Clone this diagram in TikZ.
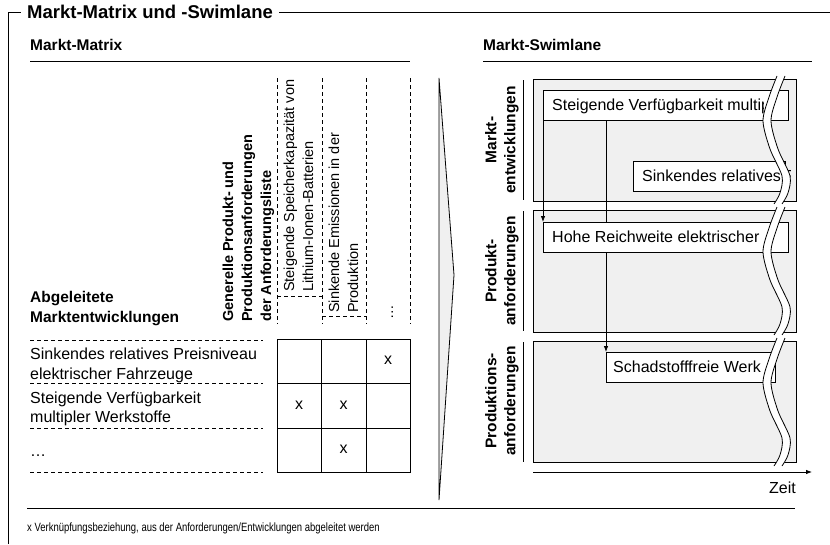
\documentclass[tikz,border=0pt]{standalone}
\usepackage{fontspec}
\setmainfont{Liberation Sans}
\usetikzlibrary{arrows.meta}
\definecolor{lanefill}{HTML}{F0F0F0}

\tikzset{
  every node/.style={inner sep=0pt},
  body/.style={font=\fontsize{16}{19}\selectfont},
  coltext/.style={font=\fontsize{14.5}{18}\selectfont},
  headb/.style={font=\bfseries\fontsize{15.5}{19}\selectfont},
  colhead/.style={font=\bfseries\fontsize{14.5}{18}\selectfont},
  rule/.style={line width=0.9pt},
  dashrule/.style={line width=0.7pt, dash pattern=on 4pt off 3pt},
  gridline/.style={line width=0.8pt},
  lanebox/.style={draw, fill=lanefill, line width=0.8pt, anchor=north west},
  evtbox/.style={draw, fill=white, line width=0.8pt, anchor=north west, minimum height=30pt},
  flow/.style={-{Latex[length=6pt,width=4.5pt]}, line width=0.8pt},
  lanelabel/.style={font=\bfseries\fontsize{15.5}{19}\selectfont, align=center, rotate=90},
  xcell/.style={font=\fontsize{16}{19}\selectfont},
  vtext/.style={coltext, rotate=90, anchor=base west},
  vhead/.style={colhead, rotate=90, anchor=base west},
}

\begin{document}
\begin{tikzpicture}[x=1pt, y=-1pt]
\useasboundingbox (0,0) rectangle (830,544);

% ---------- outer frame with title ----------
\node[font=\bfseries\fontsize{18.5}{20}\selectfont, anchor=west, inner xsep=6pt] (title) at (21,12) {Markt-Matrix und -Swimlane};
\draw[rule] (8,544) -- (8,12) -- (title.west);
\draw[rule] (title.east) -- (830,12);

% ---------- section headings ----------
\node[headb, anchor=base west] (mmhead) at (30,50) {Markt-Matrix};
\draw[rule] (30,61) -- (410,61);
\node[headb, anchor=base west] (mshead) at (483,50) {Markt-Swimlane};
\draw[rule] (483,61) -- (812,61);

% ---------- matrix: column headers ----------
\foreach \x in {277,322,366,410} \draw[dashrule] (\x,78) -- (\x,324);
\draw[dashrule] (277,296) -- (322,296);
\draw[dashrule] (322,316) -- (366,316);

\node[vhead] (gh1) at (233,322) {Generelle Produkt- und};
\node[vhead] (gh2) at (252,322) {Produktionsanforderungen};
\node[vhead] (gh3) at (271,322) {der Anforderungsliste};

\node[vtext] (c1a) at (294,292) {Steigende Speicherkapazität von};
\node[vtext] (c1b) at (313,292) {Lithium-Ionen-Batterien};
\node[vtext] (c2a) at (339,313) {Sinkende Emissionen in der};
\node[vtext] (c2b) at (358,313) {Produktion};
\node[vtext] (c3) at (393,320) {\dots};

% ---------- matrix: row headers ----------
\node[headb, anchor=base west] (rh1) at (30,302) {Abgeleitete};
\node[headb, anchor=base west] (rh2) at (30,322) {Marktentwicklungen};

\foreach \y in {340,383,428,472} \draw[dashrule] (30,\y) -- (263,\y);

\node[body, anchor=base west] (r1a) at (30,359) {Sinkendes relatives Preisniveau};
\node[body, anchor=base west] (r1b) at (30,379) {elektrischer Fahrzeuge};
\node[body, anchor=base west] (r2a) at (30,403) {Steigende Verfügbarkeit};
\node[body, anchor=base west] (r2b) at (30,422) {multipler Werkstoffe};
\node[body, anchor=base west] (r3) at (30,456) {\dots};

% ---------- matrix: grid with links ----------
\draw[gridline] (277,339) rectangle (410,472);
\draw[gridline] (321,339) -- (321,472);
\draw[gridline] (366,339) -- (366,472);
\draw[gridline] (277,383) -- (410,383);
\draw[gridline] (277,428) -- (410,428);

\node[xcell] (x13) at (388,360) {x};
\node[xcell] (x21) at (299,405) {x};
\node[xcell] (x22) at (343.5,405) {x};
\node[xcell] (x32) at (343.5,449) {x};

% ---------- transition chevron ----------
\draw[line width=0.8pt, fill=lanefill, line join=miter] (439,78) -- (454,275) -- (439,500) -- cycle;

% ---------- swimlanes ----------
\node[lanebox, minimum width=263pt, minimum height=122pt] (lane1) at (533,79) {};
\node[lanebox, minimum width=263pt, minimum height=122pt] (lane2) at (533,210) {};
\node[lanebox, minimum width=263pt, minimum height=121pt] (lane3) at (533,341) {};

\node[lanelabel] (lab1) at (502,140) {Markt-\\entwicklungen};
\node[lanelabel] (lab2) at (502,271) {Produkt-\\anforderungen};
\node[lanelabel] (lab3) at (502,401) {Produktions-\\anforderungen};
\draw[line width=0.8pt] (523,80) -- (523,200);
\draw[line width=0.8pt] (523,211) -- (523,331);
\draw[line width=0.8pt] (523,342) -- (523,462);

% event boxes (geometry first, connectors behind them)
\node[evtbox, minimum width=245pt] (e1) at (543,90) {};
\node[evtbox, minimum width=152pt] (e2) at (633,161) {};
\node[evtbox, minimum width=245pt] (e3) at (543,222) {};
\node[evtbox, minimum width=169pt] (e4) at (606,352) {};

\draw[flow] (e1.south west) -- (e3.north west);
\draw[flow] (e1.south -| e4.north west) -- (e4.north west);

% redraw boxes above the connectors; labels run on into the break
\foreach \b/\w/\tx/\cx/\txt in {e1/245/552/763/{Steigende Verfügbarkeit multipler Werkstoffe},
                                e2/152/642/790/{Sinkendes relatives Preisniveau elektrischer Fahrzeuge},
                                e3/245/552/761/{Hohe Reichweite elektrischer Fahrzeuge},
                                e4/169/613/760/{Schadstofffreie Werkstoffe}} {
  \node[evtbox, minimum width=\w pt] (\b box) at (\b.north west) {};
  \begin{scope}
    \clip (\b.north west) rectangle (\b.south -| \cx,0);
    \node[body, anchor=base west, yshift=-5.5pt] (\b text) at (\b.west -| \tx,0) {\txt};
  \end{scope}
}

% time axis
\coordinate (tstart) at (533,472);
\coordinate (tend) at (812,472);
\draw[flow] (tstart) -- (tend);
\node[body, anchor=base east] (zeit) at (796,493) {Zeit};

% break marks across the lanes
\foreach \T in {79,210,341} {
  \fill[white] plot[smooth] coordinates {(777,\T-3) (769,\T+18) (763,\T+42) (770,\T+70) (782,\T+97) (780,\T+114) (774,\T+125)}
     -- plot[smooth] coordinates {(782,\T+125) (788,\T+114) (790,\T+97) (778,\T+70) (771,\T+42) (777,\T+18) (785,\T-3)} -- cycle;
  \draw[line width=0.8pt] plot[smooth] coordinates {(777,\T-3) (769,\T+18) (763,\T+42) (770,\T+70) (782,\T+97) (780,\T+114) (774,\T+125)};
  \draw[line width=0.8pt] plot[smooth] coordinates {(785,\T-3) (777,\T+18) (771,\T+42) (778,\T+70) (790,\T+97) (788,\T+114) (782,\T+125)};
}

% ---------- footnote ----------
\draw[rule] (27,508) -- (795,508);
\node[font=\fontsize{12}{13}\selectfont, xscale=0.79, anchor=base west] (note) at (27,531) {x Verknüpfungsbeziehung, aus der Anforderungen/Entwicklungen abgeleitet werden};
\end{tikzpicture}
\end{document}
